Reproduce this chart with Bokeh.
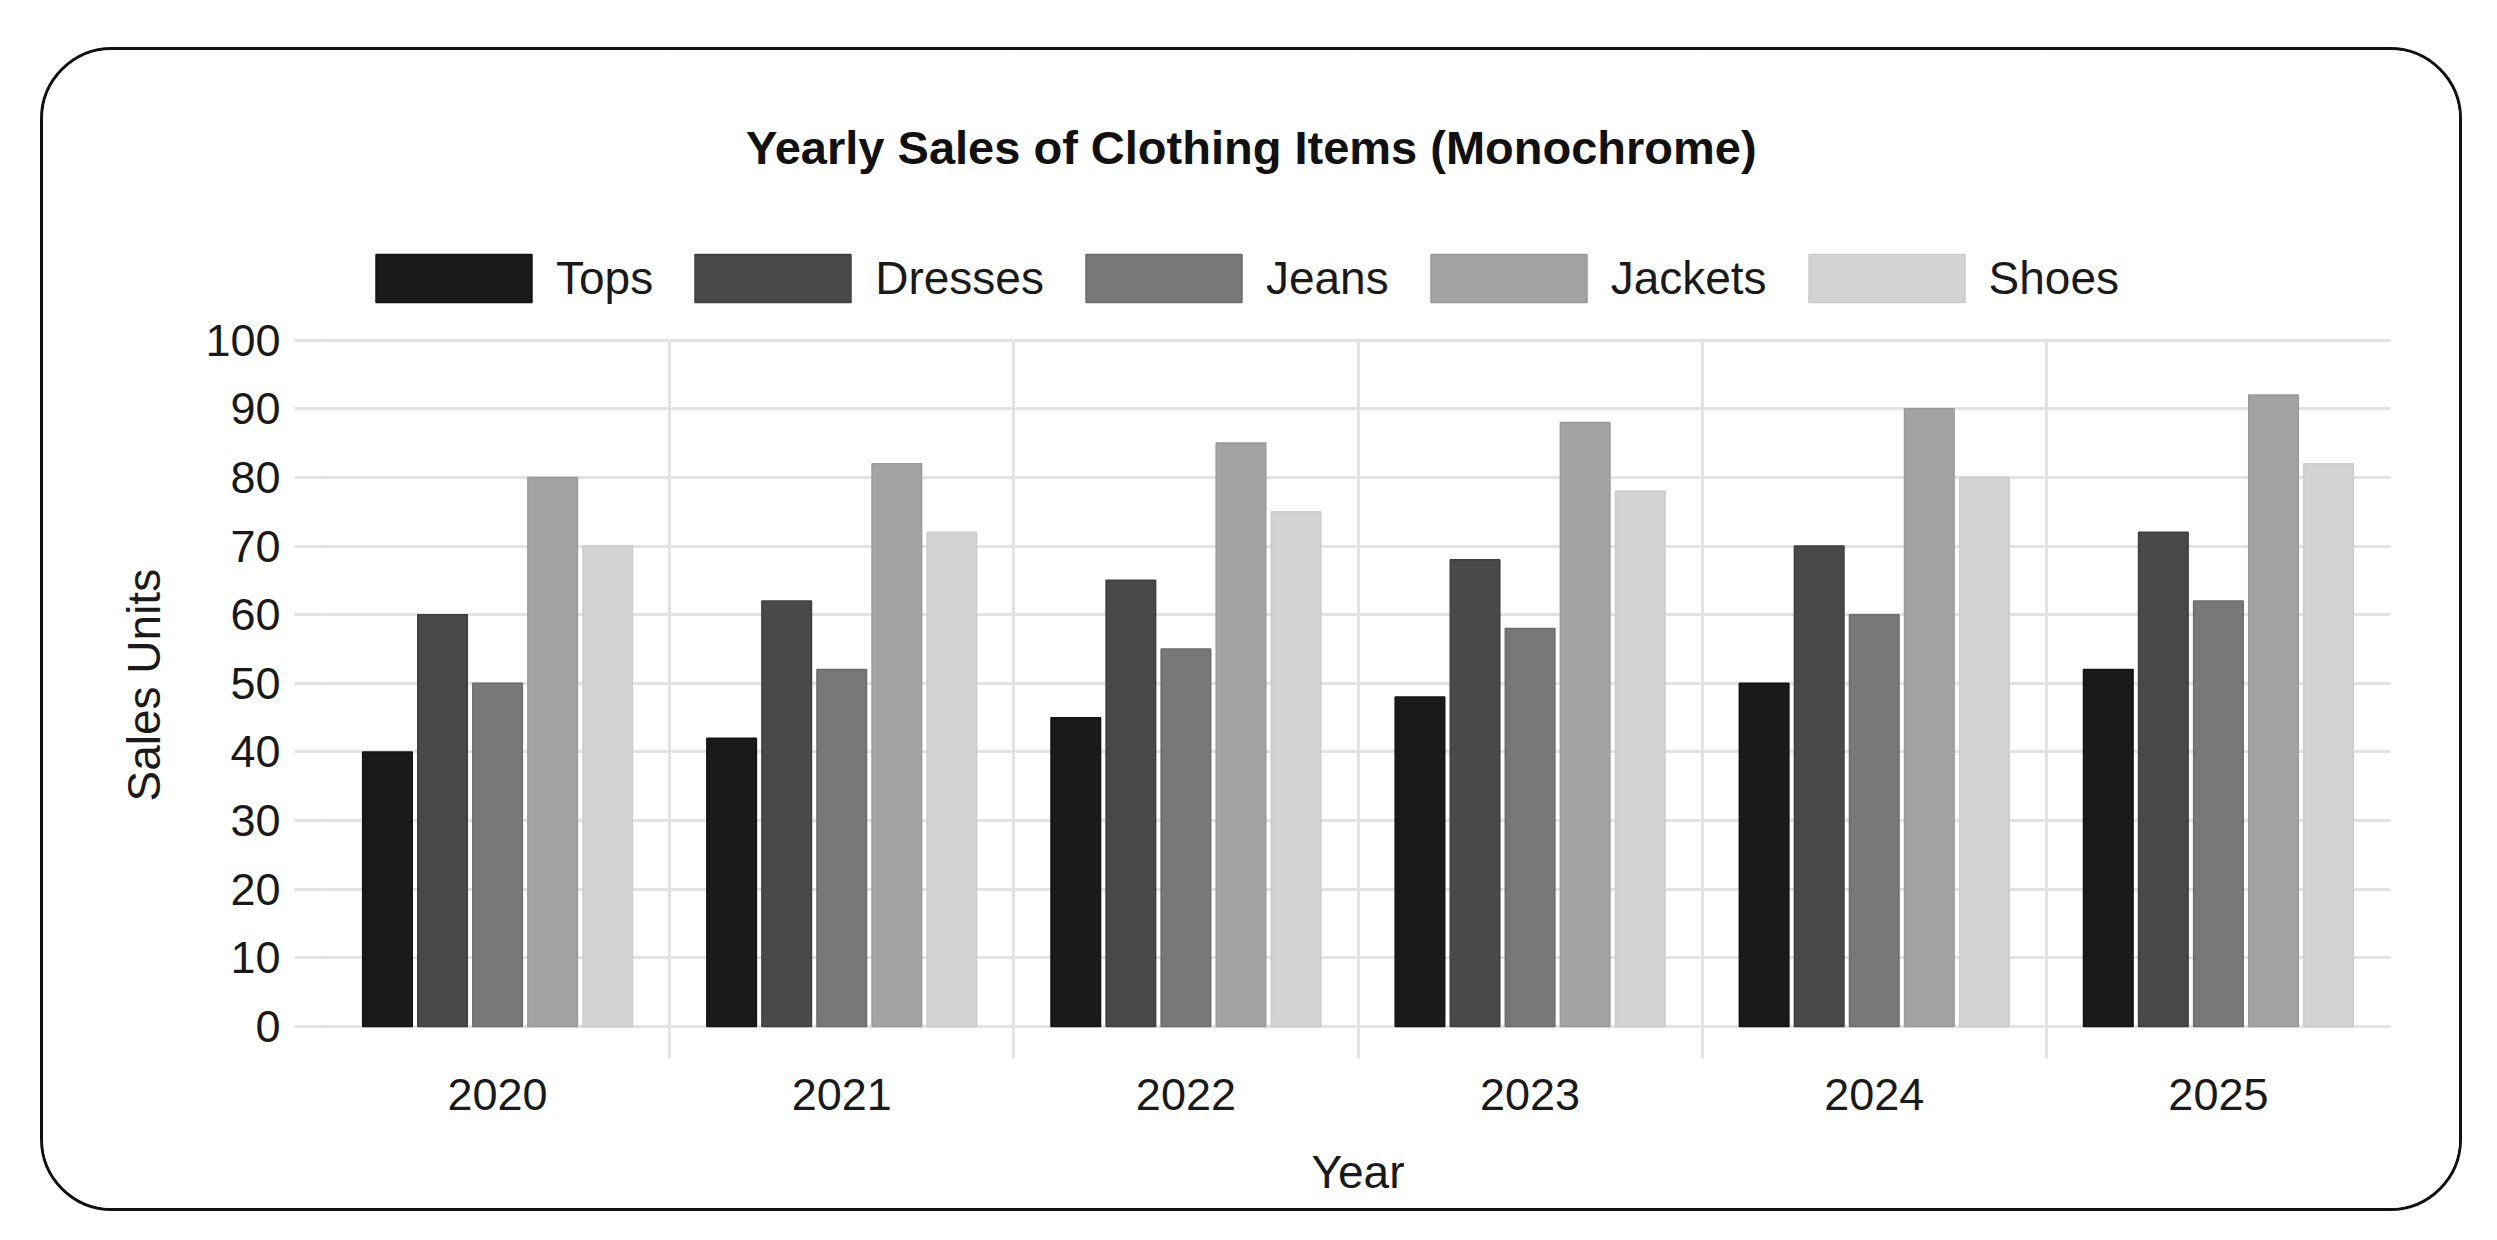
from bokeh.plotting import figure
from bokeh.models import (ColumnDataSource, FixedTicker, Legend, LegendItem, Range1d,
                          FactorRange, BoxAnnotation, Label, Title)
from bokeh.transform import dodge
from bokeh.embed import file_html
from bokeh.resources import INLINE

# ---- data ----
years = ["2020", "2021", "2022", "2023", "2024", "2025"]
items = ["Tops", "Dresses", "Jeans", "Jackets", "Shoes"]
tops = [40, 42, 45, 48, 50, 52]
dresses = [60, 62, 65, 68, 70, 72]
jeans = [50, 52, 55, 58, 60, 62]
jackets = [80, 82, 85, 88, 90, 92]
shoes = [70, 72, 75, 78, 80, 82]
y_ticks = [0, 10, 20, 30, 40, 50, 60, 70, 80, 90, 100]
title_text = "Yearly Sales of Clothing Items (Monochrome)"
x_title = "Year"
y_title = "Sales Units"

fill_colors = ["#1a1a1a", "#494949", "#787878", "#a3a3a3", "#d3d3d3"]
line_colors = ["#141414", "#3f3f3f", "#6c6c6c", "#999999", "#cccccc"]

FONT = "Liberation Sans"
GRID = "#e3e3e3"
Y_MAX = max(y_ticks)

src = ColumnDataSource(dict(year=years, Tops=tops, Dresses=dresses, Jeans=jeans,
                            Jackets=jackets, Shoes=shoes))

# frame spans from the top of the card down to just below the zero line
p = figure(x_range=FactorRange(*years), y_range=Range1d(-4.66, 142.19),
           frame_width=2065, frame_height=1008,
           min_border_left=282, min_border_right=69, min_border_top=0, min_border_bottom=150,
           output_backend="svg", toolbar_location=None)

p.styles = {"border": "3px solid #111111", "border-radius": "72px",
            "margin-left": "40px", "margin-top": "47px", "overflow": "hidden"}

p.background_fill_color = "white"
p.border_fill_color = "white"
p.outline_line_color = None

# bars
n = len(items)
slot = 0.8 / n
offsets = [(i - (n - 1) / 2) * slot for i in range(n)]
renderers = []
for i, name in enumerate(items):
    r = p.vbar(x=dodge("year", offsets[i], range=p.x_range), top=name, bottom=0,
               width=slot * 0.9, source=src,
               fill_color=fill_colors[i], line_color=line_colors[i], line_width=1.5)
    renderers.append(r)

# axes
p.yaxis.ticker = FixedTicker(ticks=y_ticks)
p.yaxis.bounds = (0, Y_MAX)
p.yaxis.axis_line_color = None
p.yaxis.major_tick_out = 31
p.yaxis.major_tick_in = 0
p.yaxis.major_tick_line_color = GRID
p.yaxis.major_tick_line_width = 3
p.yaxis.minor_tick_line_color = None
p.yaxis.major_label_standoff = 14
p.yaxis.major_label_text_font = FONT
p.yaxis.major_label_text_font_size = "45px"
p.yaxis.major_label_text_color = "#1a1a1a"

# y axis title, centred on the 0..100 span rather than on the whole frame
ytitle = Title(text=y_title, align="left", offset=257, vertical_align="bottom", standoff=66,
               text_font=FONT, text_font_size="46px", text_font_style="normal",
               text_color="#1a1a1a")
p.add_layout(ytitle, "left")

p.xaxis.axis_line_color = None
p.xaxis.major_tick_line_color = None
p.xaxis.major_tick_out = 0
p.xaxis.major_tick_in = 0
p.xaxis.major_label_standoff = 20
p.xaxis.major_label_text_font = FONT
p.xaxis.major_label_text_font_size = "45px"
p.xaxis.major_label_text_color = "#1a1a1a"
p.xaxis.axis_label = x_title
p.xaxis.axis_label_text_font = FONT
p.xaxis.axis_label_text_font_size = "46px"
p.xaxis.axis_label_text_font_style = "normal"
p.xaxis.axis_label_text_color = "#1a1a1a"
p.xaxis.axis_label_standoff = 33

# grids: vertical lines at category boundaries, horizontal at y ticks
p.xgrid.ticker = FixedTicker(ticks=list(range(len(years) + 1)))
p.xgrid.grid_line_color = GRID
p.xgrid.grid_line_width = 3
p.ygrid.ticker = FixedTicker(ticks=y_ticks)
p.ygrid.grid_line_color = GRID
p.ygrid.grid_line_width = 3

# white mask hiding the vertical grid lines above the top tick
mask = BoxAnnotation(bottom=Y_MAX, fill_color="white", fill_alpha=1.0,
                     line_color=None, level="underlay")
p.add_layout(mask)

# chart title
title = Label(x=2.69, y=128.1, text=title_text, text_align="center", text_baseline="middle",
              text_font=FONT, text_font_size="47px", text_font_style="bold", text_color="#111111")
p.add_layout(title)

# legend (Bokeh draws box glyphs inset 10% on each side of the glyph area)
legend = Legend(items=[LegendItem(label=name, renderers=[renderers[i]]) for i, name in enumerate(items)],
                orientation="horizontal", location=(31, 750),
                glyph_width=195, glyph_height=60, label_standoff=5, spacing=22,
                padding=0, margin=0, border_line_color=None, background_fill_alpha=0,
                label_text_font=FONT, label_text_font_size="46px", label_text_color="#1a1a1a")
p.add_layout(legend)

# draw order: vertical grid, mask, horizontal grid, then the rest
xg = p.xgrid[0]
yg = p.ygrid[0]
rest = [r for r in p.center if r is not xg and r is not yg and r is not mask]
p.center = [xg, mask, yg] + rest

open("out.html", "w").write(file_html(p, INLINE))
